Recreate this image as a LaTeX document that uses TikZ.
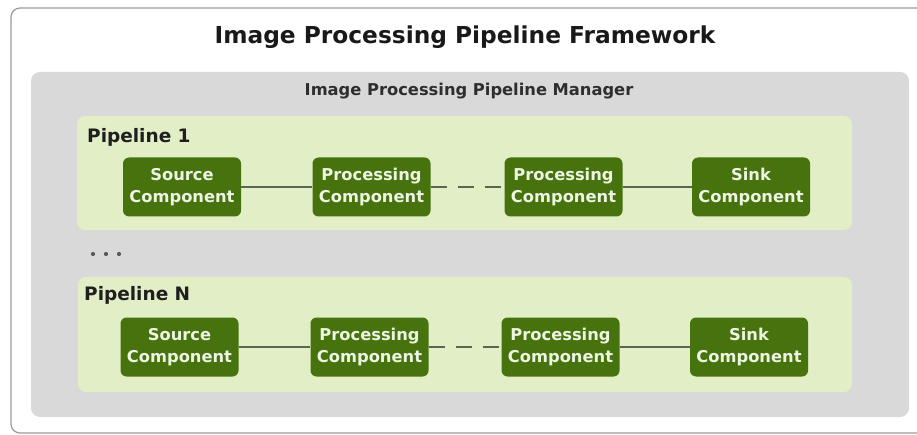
\documentclass[tikz,border=0pt]{standalone}
\usepackage{fontspec}
\setmainfont{DejaVu Sans}
\definecolor{framegray}{HTML}{9A9A9A}
\definecolor{mgrgray}{HTML}{D9D9D9}
\definecolor{pipegreen}{HTML}{E1EEC6}
\definecolor{compgreen}{HTML}{47730F}
\definecolor{comptext}{HTML}{EEF5E2}
\definecolor{linkgray}{HTML}{5A6652}
\tikzset{
  comp/.style={draw=none, fill=compgreen, rounded corners=6pt, minimum width=118pt, minimum height=59pt,
    text=comptext, font=\fontsize{16.3}{22.5}\selectfont\bfseries, align=center, inner sep=0pt},
  link/.style={draw=linkgray, line width=2pt},
  dashlink/.style={link, dash pattern=on 16pt off 11pt},
  pipebox/.style={fill=pipegreen, rounded corners=8pt},
  pipelabel/.style={anchor=base west, font=\fontsize{18.5}{20}\selectfont\bfseries, text=black!88, inner sep=0pt},
}
\begin{document}
\begin{tikzpicture}[x=1pt,y=-1pt]
\useasboundingbox (0,0) rectangle (917,435);
\fill[white] (0,0) rectangle (917,435);
% outer frame (extends past right edge)
\draw[framegray, line width=1.2pt, fill=white, rounded corners=9pt] (11,8) rectangle (940,433);
\node[font=\fontsize{23.3}{26}\selectfont\bfseries, text=black!90, inner sep=0pt] (title) at (465,37) {Image Processing Pipeline Framework};
% manager
\fill[mgrgray, rounded corners=9pt] (31,72) rectangle (909,417);
\node[font=\fontsize{16.3}{18}\selectfont\bfseries, text=black!82, inner sep=0pt] (mgr) at (469,91) {Image Processing Pipeline Manager};
% pipeline 1
\fill[pipebox] (77,116) rectangle (852,230);
\node[pipelabel] (p1) at (87,143) {Pipeline 1};
\node[comp] (s1) at (182,187) {Source\\Component};
\node[comp] (a1) at (371.5,187) {Processing\\Component};
\node[comp] (b1) at (563.5,187) {Processing\\Component};
\node[comp] (k1) at (751,187) {Sink\\Component};
\draw[link] (s1) -- (a1);
\draw[dashlink] (a1) -- (b1);
\draw[link] (b1) -- (k1);
% dots
\fill[black!65] (93,254) circle (2.1pt) (106,254) circle (2.1pt) (119,254) circle (2.1pt);
% pipeline N
\fill[pipebox] (78,277) rectangle (852,392);
\node[pipelabel] (pn) at (84,301) {Pipeline N};
\node[comp] (sn) at (179.5,347) {Source\\Component};
\node[comp] (an) at (369.5,347) {Processing\\Component};
\node[comp] (bn) at (560.5,347) {Processing\\Component};
\node[comp] (kn) at (749,347) {Sink\\Component};
\draw[link] (sn) -- (an);
\draw[dashlink] (an) -- (bn);
\draw[link] (bn) -- (kn);
\end{tikzpicture}
\end{document}
